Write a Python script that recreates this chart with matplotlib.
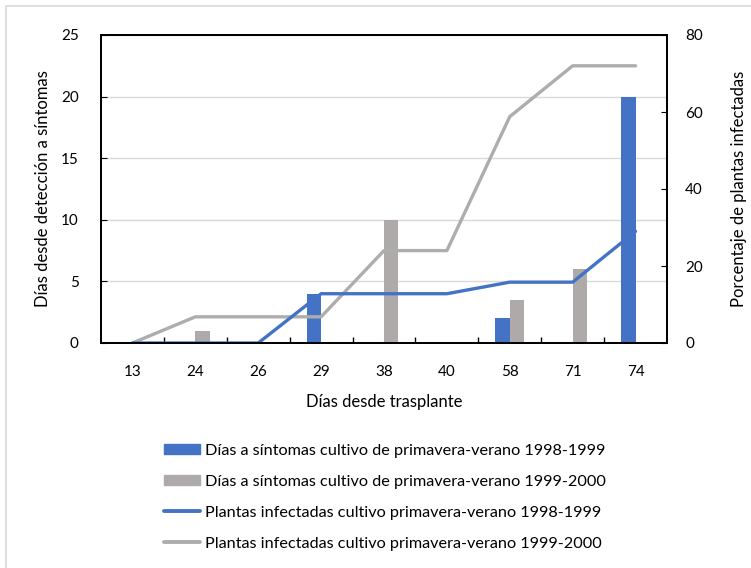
import numpy as np
import matplotlib
matplotlib.use("Agg")
import matplotlib.pyplot as plt
from matplotlib.patches import Patch, Rectangle
from matplotlib.lines import Line2D

plt.rcParams['font.family'] = ['Lato', 'DejaVu Sans']

dias = ['13', '24', '26', '29', '38', '40', '58', '71', '74']
sintomas_9899 = [0, 0, 0, 4, 0, 0, 2, 0, 20]
sintomas_9900 = [0, 1, 0, 0, 10, 0, 3.5, 6, 0]
infectadas_9899 = [0, 0, 0, 12.8, 12.8, 12.8, 15.8, 15.8, 29]
infectadas_9900 = [0, 6.8, 6.8, 6.8, 24, 24, 58.8, 72, 72]

azul = '#4472C4'
gris_barra = '#AEAAAA'
gris_linea = '#ADADAD'

fig = plt.figure(figsize=(7.51, 5.68), dpi=100)
ax = fig.add_axes([101/751, 1 - 343/568, 566/751, 308/568])
ax2 = ax.twinx()

x = np.arange(len(dias))
w = 0.23
ax.bar(x - w/2, sintomas_9899, w, color=azul, zorder=3)
ax.bar(x + w/2, sintomas_9900, w, color=gris_barra, zorder=3)

ax2.plot(x, infectadas_9900, color=gris_linea, lw=2.4, solid_capstyle='round', solid_joinstyle='round')
ax2.plot(x, infectadas_9899, color=azul, lw=2.4, solid_capstyle='round', solid_joinstyle='round')

ax.set_xlim(-0.5, len(dias) - 0.5)
ax.set_ylim(0, 25)
ax.set_yticks(range(0, 26, 5))
ax2.set_ylim(0, 80)
ax2.set_yticks(range(0, 81, 20))

ax.set_xticks(x)
ax.set_xticklabels(dias)
ax.set_xticks(x[:-1] + 0.5, minor=True)
ax.tick_params(axis='x', which='major', length=0, pad=16, labelsize=11)
ax.tick_params(axis='x', which='minor', length=4, direction='in', width=1)
ax.tick_params(axis='y', length=4, direction='in', pad=16, labelsize=11)
ax2.tick_params(axis='y', length=4, direction='in', pad=13, labelsize=11)

ax.grid(axis='y', color='#D9D9D9', lw=1, zorder=0)
ax.set_axisbelow(True)
for a in (ax, ax2):
    for s in a.spines.values():
        s.set_linewidth(1.4)
        s.set_color('black')

ax.set_xlabel('Días desde trasplante', fontsize=12, labelpad=11)
ax.set_ylabel('Días desde detección a síntomas', fontsize=12, labelpad=7)
ax2.set_ylabel('Porcentaje de plantas infectadas', fontsize=12, labelpad=20)

handles = [
    Patch(color=azul),
    Patch(color=gris_barra),
    Line2D([], [], color=azul, lw=2.8, solid_capstyle='round'),
    Line2D([], [], color=gris_linea, lw=2.8, solid_capstyle='round'),
]
labels = [
    'Días a síntomas cultivo de primavera-verano 1998-1999',
    'Días a síntomas cultivo de primavera-verano 1999-2000',
    'Plantas infectadas cultivo primavera-verano 1998-1999',
    'Plantas infectadas cultivo primavera-verano 1999-2000',
]
fig.legend(handles, labels, loc='upper left', bbox_to_anchor=(157/751, 1 - 437/568),
           frameon=False, fontsize=11.7, labelspacing=1.05, handlelength=2.25,
           handletextpad=0.3, handleheight=0.55, borderpad=0.4, borderaxespad=0)

fig.patches.append(Rectangle((6/751, -0.1), 1.2, 1 - 6/568 + 0.1, transform=fig.transFigure,
                             fill=False, edgecolor='#D9D9D9', lw=1.2))

fig.savefig('out.png', dpi=100)
